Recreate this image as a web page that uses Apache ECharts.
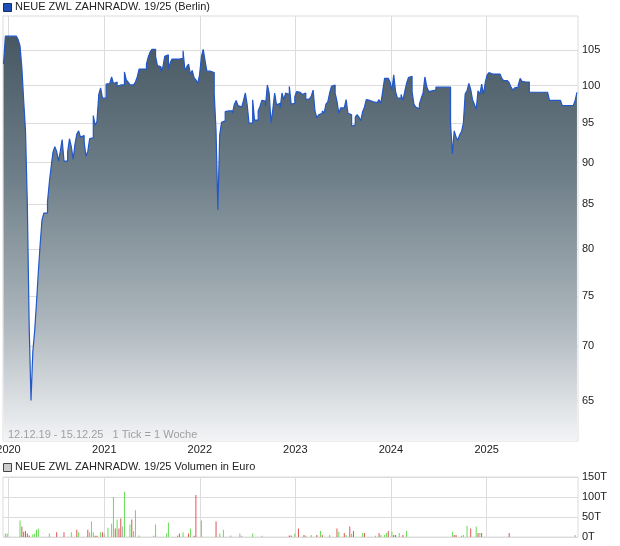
<!DOCTYPE html>
<html><head><meta charset="utf-8">
<script src="https://cdn.jsdelivr.net/npm/echarts@6/dist/echarts.min.js"></script>
<style>html,body{margin:0;padding:0;background:#fff}#c{width:620px;height:546px}</style>
</head><body><div id="c"></div>
<script>
const title = 'NEUE ZWL ZAHNRADW. 19/25 (Berlin)';
const volTitle = 'NEUE ZWL ZAHNRADW. 19/25 Volumen in Euro';
const rangeNote = '12.12.19 - 15.12.25   1 Tick = 1 Woche';
const firstWeek = [2019, 11, 13];   // first weekly tick (y, m0, d)
const yTicks = [65, 70, 75, 80, 85, 90, 95, 100, 105];
const years = [2020, 2021, 2022, 2023, 2024, 2025];
const volTicks = [0, 50, 100, 150];

// weekly closing prices
const prices = [
  103,107,107,107,107,107,107,107,106.5,105.6,
  102.5,98,94,85,72,65,69.5,71.5,74.3,77.5,
  80.5,83.2,84,84,85.3,87.6,89.5,91.3,92,91.4,
  90.2,91.4,92.9,90.2,90.2,91.3,93,92,90.4,92.3,
  93.6,94,93.2,93.4,92.6,90.8,91.4,93,93.1,96,
  94.7,95.2,98.8,99.7,98.3,98.3,100.2,100.3,100.5,101.2,
  100.3,100.5,99.9,100.1,100.1,100.1,101.9,100.8,100.5,100.1,
  100.1,100.1,100.5,101.2,102.3,102.3,102.3,102.3,103,104,
  104.7,105.1,105.1,104.1,102.8,102.6,101.9,102.6,104.1,104.3,
  102.3,103.2,103.7,103.7,103.7,103.7,103.7,103.8,104.9,102.1,
  102.6,103,101.6,102.1,101.1,100.8,100.3,101.5,104,105.1,
  103.5,102,102,102,101.8,99,94,84.4,93.5,95.1,
  95.3,96.5,96.6,96.6,96.6,96.3,97.5,98,97.3,97.1,
  97.1,98,99,97.4,95,95,98.1,95.4,95.4,96.6,
  97.2,98,97.9,97.2,100.1,99,95,96.8,99,97.4,
  97.6,97,99,98.1,99,98.8,99.9,97.5,97.6,98.5,
  99.2,99.1,99,98.8,99,98.1,98.2,98.3,98.6,99.4,
  96.6,95.7,96.1,96.3,96.6,96.3,97.5,97.8,99,99.9,
  100.1,99,97.9,96.3,97,97,96.8,98.1,96.3,96.1,
  94.6,94.8,95.8,96.1,95.8,95.3,96.5,97.1,98.1,98,
  97.9,97.8,97.8,97.7,97.8,98.1,97.6,99.3,101,101,
  101.1,100.5,99.4,101.5,99.2,98.3,98.3,98.8,98,99.2,
  100.3,101.1,101.3,99.2,97.5,97.1,96.9,97.5,98.3,99,
  101.2,99.9,99.2,99.3,99.4,99.4,99.8,99.8,99.8,99.8,
  99.8,99.8,99.8,99.8,95,91.1,94,93.2,92.8,93.5,
  93.9,95,98.9,99.3,100.3,99.5,98.1,97.5,96.8,99.3,
  98.8,100.2,98.8,100.5,101.5,101.8,101.6,101.6,101.6,101.6,
  101.6,101.6,101,100.7,100.7,100.7,100.4,99.8,99.4,99.7,
  99.8,100.1,101,100.6,100.5,100.5,100.5,99.1,99.1,99.1,
  99.1,99.1,99.1,99.1,99.1,99.1,99.1,99.1,98,98,
  98,98,98,98,98,97.3,97.3,97.3,97.3,97.3,
  97.3,97.3,98,99.1
];

// weekly volume (thousand EUR): week index, value, direction (g up, r down, n flat)
const volWeek = [
  1,2,9,10,11,12,13,14,16,17,
  18,19,25,29,33,37,40,41,46,47,
  48,49,50,51,53,54,55,57,59,60,
  61,62,63,64,65,66,69,70,71,72,
  74,82,83,89,90,95,96,98,101,102,
  104,105,108,116,118,120,124,129,130,136,
  141,156,157,159,161,164,165,168,171,173,
  174,178,182,183,186,187,189,190,191,196,
  197,203,205,206,208,209,210,212,213,214,
  216,218,220,245,246,247,250,251,253,255,
  258,259,260,261,276,312
];
const volValue = [
  9,9,41,26,13,15,9,4,7,9,
  18,21,9,12,12,12,18,12,18,12,
  39,12,3,3,12,12,9,23,33,100,
  21,44,21,46,26,113,31,44,15,67,
  4,3,31,9,36,4,9,12,9,21,
  3,105,41,39,9,18,4,9,3,9,
  3,4,4,9,21,5,3,5,5,15,
  5,5,21,13,10,5,26,8,15,10,
  10,3,10,5,5,10,15,13,5,5,
  10,5,15,13,5,5,3,5,28,21,
  26,10,10,10,10,5
];
const volDir = [
  'g','g','g','r','r','r','r','r','g','g',
  'g','g','g','r','r','g','r','g','r','g',
  'g','g','r','r','g','r','n','g','g','g',
  'r','g','r','r','n','g','g','r','n','g',
  'g','g','g','g','g','g','r','g','r','g',
  'r','r','g','r','g','g','n','n','n','g',
  'g','r','r','g','r','r','g','g','r','g',
  'r','g','r','g','r','g','r','g','r','g',
  'r','n','r','g','g','g','r','g','r','r',
  'g','r','g','g','r','r','g','g','g','r',
  'g','r','g','r','r','g'
];

const weekTime = i => new Date(firstWeek[0], firstWeek[1], firstWeek[2] + 7 * i).getTime();
const yearTime = years.map(y => new Date(y, 0, 1).getTime());
const xMin = new Date(2019, 11, 11).getTime();
const xMax = new Date(2025, 11, 16).getTime();
const dirColor = { g: '#66dd55', r: '#dd5555', n: '#aaaaaa' };
const FONT = 'Liberation Sans, Arial, sans-serif';

const chart = echarts.init(document.getElementById('c'), null, { renderer: 'canvas' });
const grid = '#dcdcdc';

const xCommon = {
  type: 'value', min: xMin, max: xMax, scale: true,
  axisLine: { show: false },
  axisTick: { show: false, customValues: yearTime },
  splitLine: { show: true, lineStyle: { color: grid, width: 1 } }
};

chart.setOption({
  animation: false,
  textStyle: { fontFamily: FONT },
  grid: [
    { left: 3, right: 42, top: 16, height: 425, show: true, borderColor: grid, borderWidth: 1,
      containLabel: false, outerBoundsMode: 'none' },
    { left: 3, right: 42, top: 477, height: 60, show: true, borderColor: grid, borderWidth: 1,
      containLabel: false, outerBoundsMode: 'none' }
  ],
  xAxis: [
    Object.assign({}, xCommon, {
      gridIndex: 0,
      axisLabel: { show: true, customValues: yearTime, margin: 3, fontSize: 11, color: '#222', fontFamily: FONT,
        hideOverlap: false, formatter: v => String(new Date(v).getFullYear()) }
    }),
    Object.assign({}, xCommon, { gridIndex: 1, axisLabel: { show: false } })
  ],
  yAxis: [
    { type: 'log', gridIndex: 0, position: 'right', min: 61.5, max: 110,
      axisLine: { show: false },
      axisTick: { show: false, customValues: yTicks },
      axisLabel: { customValues: yTicks, margin: 4, fontSize: 11, color: '#222', fontFamily: FONT },
      splitLine: { show: true, lineStyle: { color: grid, width: 1 } } },
    { type: 'value', gridIndex: 1, position: 'right', min: 0, max: 150, interval: 50,
      axisLine: { show: false }, axisTick: { show: false },
      axisLabel: { margin: 4, fontSize: 11, color: '#222', fontFamily: FONT, formatter: v => v + 'T' },
      splitLine: { show: true, lineStyle: { color: grid, width: 1 } } }
  ],
  series: [
    { type: 'line', xAxisIndex: 0, yAxisIndex: 0, step: 'end', symbol: 'none',
      data: prices.map((v, i) => [weekTime(i), v]),
      lineStyle: { color: '#2157c7', width: 1.2 },
      areaStyle: { origin: 'start', opacity: 1,
        color: new echarts.graphic.LinearGradient(0, 0, 0, 1, [
          { offset: 0, color: '#475862' },
          { offset: 0.35, color: '#6f7f89' },
          { offset: 0.7, color: '#abb5bb' },
          { offset: 1, color: '#f3f4f6' }
        ]) } },
    { type: 'bar', xAxisIndex: 1, yAxisIndex: 1, barWidth: 1,
      data: volWeek.map((w, k) => ({ value: [weekTime(w), volValue[k]], itemStyle: { color: dirColor[volDir[k]] } })) }
  ],
  graphic: [
    { type: 'rect', z: 100, left: 3, top: 3, shape: { width: 8, height: 8 }, style: { fill: '#1f4fb5', stroke: '#10306e', lineWidth: 1 } },
    { type: 'text', z: 100, left: 15, top: 1, style: { text: title, font: '11px ' + FONT, fill: '#222' } },
    { type: 'text', z: 100, left: 8, top: 429, style: { text: rangeNote, font: '11px ' + FONT, fill: '#a0a0a0' } },
    { type: 'rect', z: 100, left: 3, top: 463, shape: { width: 8, height: 8 }, style: { fill: '#cccccc', stroke: '#444444', lineWidth: 1 } },
    { type: 'text', z: 100, left: 15, top: 461, style: { text: volTitle, font: '11px ' + FONT, fill: '#222' } }
  ]
});
</script></body></html>
